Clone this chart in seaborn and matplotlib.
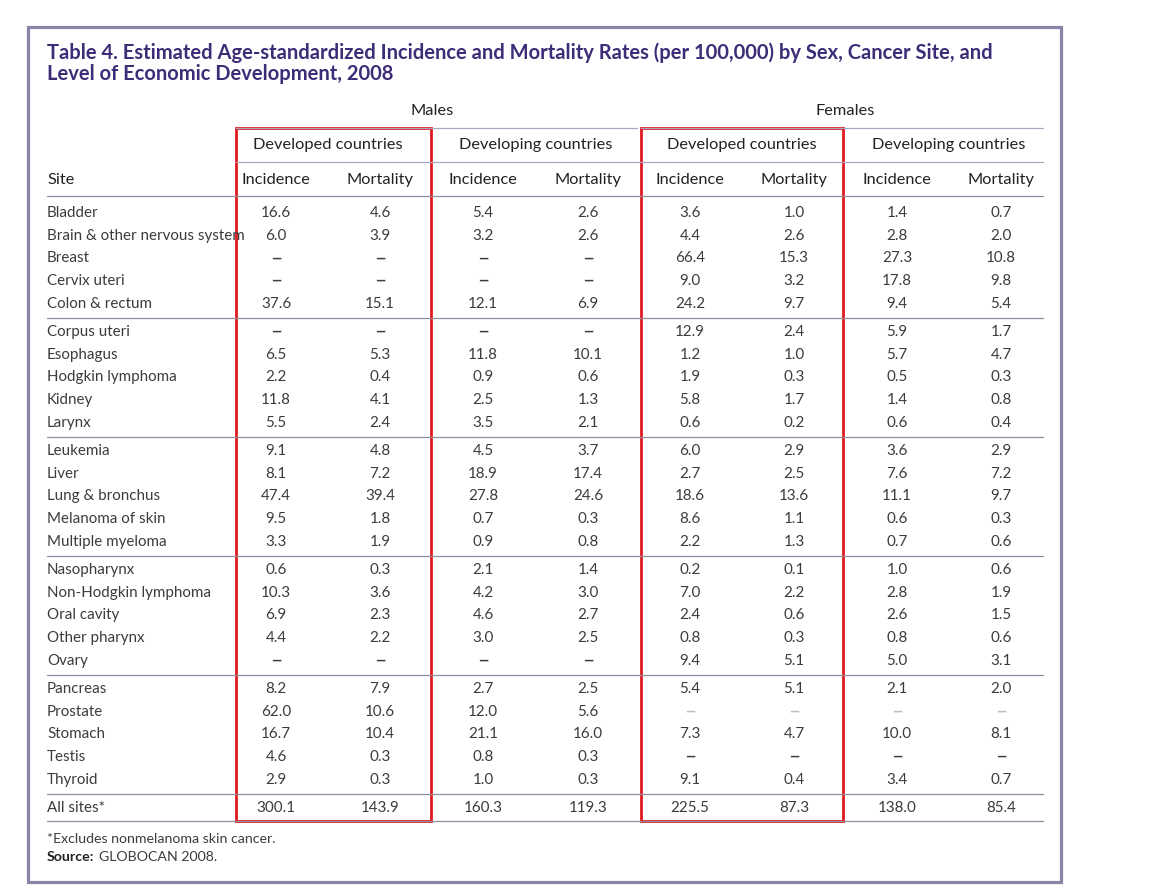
import seaborn as sns
import matplotlib.pyplot as plt
from matplotlib.patches import Rectangle

# Data (per 100,000); None = no value (dash)
sites = ["Bladder", "Brain & other nervous system", "Breast", "Cervix uteri", "Colon & rectum",
         "Corpus uteri", "Esophagus", "Hodgkin lymphoma", "Kidney", "Larynx",
         "Leukemia", "Liver", "Lung & bronchus", "Melanoma of skin", "Multiple myeloma",
         "Nasopharynx", "Non-Hodgkin lymphoma", "Oral cavity", "Other pharynx", "Ovary",
         "Pancreas", "Prostate", "Stomach", "Testis", "Thyroid", "All sites*"]

male_dev_inc = [16.6, 6.0, None, None, 37.6, None, 6.5, 2.2, 11.8, 5.5, 9.1, 8.1, 47.4, 9.5, 3.3,
                0.6, 10.3, 6.9, 4.4, None, 8.2, 62.0, 16.7, 4.6, 2.9, 300.1]
male_dev_mort = [4.6, 3.9, None, None, 15.1, None, 5.3, 0.4, 4.1, 2.4, 4.8, 7.2, 39.4, 1.8, 1.9,
                 0.3, 3.6, 2.3, 2.2, None, 7.9, 10.6, 10.4, 0.3, 0.3, 143.9]
male_dvg_inc = [5.4, 3.2, None, None, 12.1, None, 11.8, 0.9, 2.5, 3.5, 4.5, 18.9, 27.8, 0.7, 0.9,
                2.1, 4.2, 4.6, 3.0, None, 2.7, 12.0, 21.1, 0.8, 1.0, 160.3]
male_dvg_mort = [2.6, 2.6, None, None, 6.9, None, 10.1, 0.6, 1.3, 2.1, 3.7, 17.4, 24.6, 0.3, 0.8,
                 1.4, 3.0, 2.7, 2.5, None, 2.5, 5.6, 16.0, 0.3, 0.3, 119.3]
fem_dev_inc = [3.6, 4.4, 66.4, 9.0, 24.2, 12.9, 1.2, 1.9, 5.8, 0.6, 6.0, 2.7, 18.6, 8.6, 2.2,
               0.2, 7.0, 2.4, 0.8, 9.4, 5.4, None, 7.3, None, 9.1, 225.5]
fem_dev_mort = [1.0, 2.6, 15.3, 3.2, 9.7, 2.4, 1.0, 0.3, 1.7, 0.2, 2.9, 2.5, 13.6, 1.1, 1.3,
                0.1, 2.2, 0.6, 0.3, 5.1, 5.1, None, 4.7, None, 0.4, 87.3]
fem_dvg_inc = [1.4, 2.8, 27.3, 17.8, 9.4, 5.9, 5.7, 0.5, 1.4, 0.6, 3.6, 7.6, 11.1, 0.6, 0.7,
               1.0, 2.8, 2.6, 0.8, 5.0, 2.1, None, 10.0, None, 3.4, 138.0]
fem_dvg_mort = [0.7, 2.0, 10.8, 9.8, 5.4, 1.7, 4.7, 0.3, 0.8, 0.4, 2.9, 7.2, 9.7, 0.3, 0.6,
                0.6, 1.9, 1.5, 0.6, 3.1, 2.0, None, 8.1, None, 0.7, 85.4]

columns = [male_dev_inc, male_dev_mort, male_dvg_inc, male_dvg_mort,
           fem_dev_inc, fem_dev_mort, fem_dvg_inc, fem_dvg_mort]
sub_headers = ["Incidence", "Mortality"] * 4
group_headers = ["Developed countries", "Developing countries"] * 2
sex_headers = ["Males", "Females"]

title = ("Table 4. Estimated Age-standardized Incidence and Mortality Rates (per 100,000) by Sex, Cancer Site, and\n"
         "Level of Economic Development, 2008")
footnote = "*Excludes nonmelanoma skin cancer."
source = "GLOBOCAN 2008."

sns.set_theme(style="white")
plt.rcParams['font.family'] = ['Lato', 'DejaVu Sans']

W, H = 1165, 892
fig = plt.figure(figsize=(W / 100, H / 100), dpi=100)
ax = fig.add_axes([0, 0, 1, 1])
ax.set_xlim(0, W)
ax.set_ylim(H, 0)
ax.axis('off')

txt = '#3c3c3c'
head = '#222222'
purple = '#3d2d78'
rule = '#8c8c9c'

# layout
col_x = [276, 380, 483, 588, 690, 794, 897, 1001]
left, right = 47, 1043
row0, pitch, gap = 213, 22.7, 5.5


def row_y(i):
    return row0 + i * pitch + gap * (i // 5)


# outer frame
ax.add_patch(Rectangle((28, 27), 1033, 855, fill=False, edgecolor='#8a85a8', lw=2.3))

# title
ax.text(left, 63, title, color=purple, fontsize=14.5, fontweight='bold',
        va='center', ha='left', linespacing=1.05)

# header rows
hs = 11.8
for k, s in enumerate(sex_headers):
    ax.text((col_x[4 * k] + col_x[4 * k + 3]) / 2, 111, s, fontsize=hs, color=head,
            ha='center', va='center')
for k, g in enumerate(group_headers):
    ax.text((col_x[2 * k] + col_x[2 * k + 1]) / 2, 145, g, fontsize=hs, color=head,
            ha='center', va='center')
for x, s in zip(col_x, sub_headers):
    ax.text(x, 180, s, fontsize=hs, color=head, ha='center', va='center')
ax.text(left, 180, "Site", fontsize=hs, color=head, ha='left', va='center')

ax.plot([236, 637], [128, 128], color='#a9a6c0', lw=0.9)
ax.plot([641, right], [128, 128], color='#a9a6c0', lw=0.9)
ax.plot([236, right], [162, 162], color='#a9a6c0', lw=0.9)
ax.plot([left, right], [196, 196], color=rule, lw=0.9)

# body
bs = 10.9
for i, site in enumerate(sites):
    y = row_y(i)
    ax.text(left, y, site, fontsize=bs, color=txt, ha='left', va='center')
    for x, vals in zip(col_x, columns):
        v = vals[i]
        if v is None:
            light = site == "Prostate"
            ax.text(x, y, "\u2013", fontsize=bs * 1.4, color='#bbbbbb' if light else txt,
                    ha='center', va='center')
        else:
            ax.text(x, y, f"{v:.1f}", fontsize=bs, color=txt, ha='center', va='center')
    if i % 5 == 4:
        yl = (row_y(i) + row_y(i + 1)) / 2
        ax.plot([left, right], [yl, yl], color=rule, lw=0.9)

ax.plot([left, right], [821, 821], color=rule, lw=0.9)

# highlighted boxes
ax.add_patch(Rectangle((236, 128), 195, 693, fill=False, edgecolor='#e01a1f', lw=2.0))
ax.add_patch(Rectangle((641, 128), 202, 693, fill=False, edgecolor='#e01a1f', lw=2.0))

# footnotes
fs = 10.2
ax.text(left, 839, footnote, fontsize=fs, color=txt, ha='left', va='center')
ax.text(left, 857, "Source:", fontsize=fs, color=head, ha='left', va='center', fontweight='bold')
ax.text(left + 52, 857, source, fontsize=fs, color=txt, ha='left', va='center')

fig.savefig("out.png", dpi=100, facecolor='white')
